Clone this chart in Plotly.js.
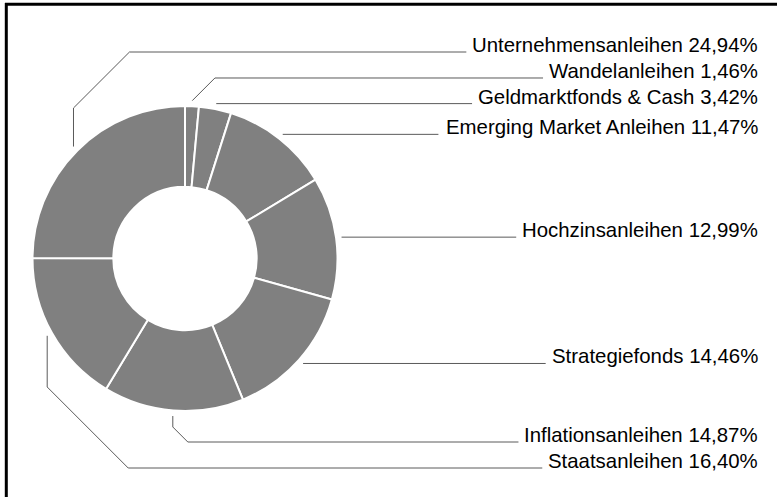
<!DOCTYPE html>
<html>
<head>
<meta charset="utf-8">
<script src="https://cdn.plot.ly/plotly-3.0.1.min.js"></script>
<style>
  html, body { margin: 0; padding: 0; background: #fff; }
  #chart { width: 777px; height: 497px; }
</style>
</head>
<body>
<div id="chart"></div>
<script>
// ---- data ----
const categories = [
  "Wandelanleihen",
  "Geldmarktfonds & Cash",
  "Emerging Market Anleihen",
  "Hochzinsanleihen",
  "Strategiefonds",
  "Inflationsanleihen",
  "Staatsanleihen",
  "Unternehmensanleihen"
];
const shares = [1.46, 3.42, 11.47, 12.99, 14.46, 14.87, 16.40, 24.94];
const shareLabels = ["1,46%", "3,42%", "11,47%", "12,99%", "14,46%", "14,87%", "16,40%", "24,94%"];

// ---- layout constants (pixels) ----
const W = 777, H = 497;
const CX = 185, CY = 258.5, R = 152.5;
const LEAD_R = R + 5.5;
const TEXT_RIGHT = 760;
const FONT_SIZE = 20.4;
const FONT = '"Liberation Sans", Arial, Helvetica, sans-serif';
// target label line y (null = stay horizontal at slice point) and elbow y (null = none)
const labelLineY = [78, null, null, null, null, 442, 468, 52];
const elbowY     = [null, null, null, null, null, 427, 387, 108];

const px = x => x / W;
const py = y => 1 - y / H;

const total = shares.reduce((a, b) => a + b, 0);
const ctx = document.createElement('canvas').getContext('2d');
ctx.font = FONT_SIZE + 'px ' + FONT;

const shapes = [];
const annotations = [];
let cum = 0;
shares.forEach((v, i) => {
  const mid = (cum + v / 2) / total * 2 * Math.PI;
  cum += v;
  const sx = CX + LEAD_R * Math.sin(mid);
  const sy = CY - LEAD_R * Math.cos(mid);
  const T = labelLineY[i] === null ? sy : labelLineY[i];
  const text = categories[i] + ' ' + shareLabels[i];
  const tw = ctx.measureText(text).width;
  const endX = TEXT_RIGHT - tw - 8;
  const pts = [[sx, sy]];
  let cx = sx, cy = sy;
  if (elbowY[i] !== null) { pts.push([sx, elbowY[i]]); cy = elbowY[i]; }
  if (Math.abs(cy - T) > 0.5) { cx = cx + Math.abs(cy - T); pts.push([cx, T]); }
  pts.push([endX, T]);
  let path = 'M' + pts.map(p => px(p[0]).toFixed(5) + ',' + py(p[1]).toFixed(5)).join(' L');
  shapes.push({type: 'path', xref: 'paper', yref: 'paper', path: path,
               line: {color: '#5a5a5a', width: 1}});
  annotations.push({xref: 'paper', yref: 'paper', x: px(TEXT_RIGHT), y: py(T - 7),
                    xanchor: 'right', yanchor: 'middle', showarrow: false, text: text,
                    font: {family: FONT, size: FONT_SIZE, color: '#000'}});
});

// frame (left and top edges visible)
shapes.push({type: 'line', xref: 'paper', yref: 'paper', x0: px(6.3), x1: px(6.3), y0: py(3), y1: py(H + 5),
             line: {color: '#000', width: 3}});
shapes.push({type: 'line', xref: 'paper', yref: 'paper', x0: px(5), x1: px(W + 5), y0: py(4.3), y1: py(4.3),
             line: {color: '#000', width: 3}});

const data = [{
  type: 'pie',
  labels: categories,
  values: shares,
  sort: false,
  direction: 'clockwise',
  rotation: 0,
  hole: 0.47,
  textinfo: 'none',
  hoverinfo: 'none',
  showlegend: false,
  marker: {colors: categories.map(() => '#808080'), line: {color: '#fff', width: 2}},
  domain: {x: [px(CX - R), px(CX + R)], y: [py(CY + R), py(CY - R)]}
}];

const layout = {
  width: W, height: H,
  margin: {l: 0, r: 0, t: 0, b: 0},
  paper_bgcolor: '#fff',
  showlegend: false,
  shapes: shapes,
  annotations: annotations
};

Plotly.newPlot('chart', data, layout, {displayModeBar: false, staticPlot: true});
</script>
</body>
</html>
